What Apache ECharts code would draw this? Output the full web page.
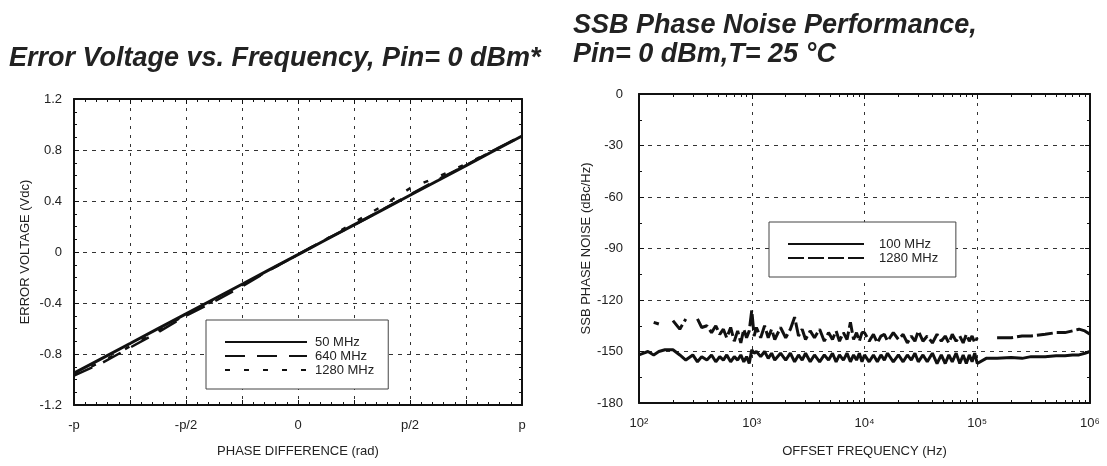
<!DOCTYPE html>
<html>
<head>
<meta charset="utf-8">
<script src="https://cdn.jsdelivr.net/npm/echarts@6/dist/echarts.min.js"></script>
<style>html,body{margin:0;padding:0;background:#fff}#c{width:1107px;height:466px}</style>
</head>
<body>
<div id="c"></div>
<script>
// ---------- Left chart: Error voltage vs phase difference ----------
// phase in units of pi
var phase = [-1, -0.875, -0.75, -0.625, -0.5, -0.375, -0.25, -0.125, 0, 0.125, 0.25, 0.375, 0.5, 0.625, 0.75, 0.875, 1];
var v50 = [-0.95, -0.834, -0.718, -0.601, -0.485, -0.369, -0.253, -0.136, -0.02, 0.096, 0.213, 0.329, 0.445, 0.561, 0.678, 0.794, 0.91];
var v640 = [-0.97, -0.87, -0.75, -0.63, -0.50, -0.39, -0.27, -0.14, -0.02, 0.10, 0.21, 0.33, 0.45, 0.57, 0.68, 0.80, 0.91];
var v1280 = [-0.96, -0.86, -0.74, -0.62, -0.49, -0.38, -0.26, -0.14, -0.02, 0.10, 0.23, 0.36, 0.50, 0.59, 0.69, 0.80, 0.91];
var phaseTickValues = [-1, -0.5, 0, 0.5, 1];
var phaseTickLabels = ['-p', '-p/2', '0', 'p/2', 'p'];
var leftNames = ['50 MHz', '640 MHz', '1280 MHz'];

// ---------- Right chart: SSB phase noise ----------
var freq = [100,110,120,135,150,170,200,230,260,300,330,360,400,440,480,520,560,600,650,700,750,800,850,900,950,
  1000,1050,1100,1200,1300,1400,1500,1600,1800,2000,2200,2400,2600,2800,3000,3300,3600,4000,4400,4800,5200,5600,6000,6500,7000,7500,8000,8500,9000,9500,
  10000,11000,12000,13000,14000,15000,16000,18000,20000,22000,24000,26000,28000,30000,33000,36000,40000,44000,48000,52000,56000,60000,65000,70000,75000,80000,85000,90000,95000,
  100000,120000,150000,200000,250000,300000,400000,500000,600000,700000,800000,900000,1000000];
var pn100 = [-152,-151,-150,-152,-150,-149,-149,-152,-155,-152,-156,-153,-155,-152,-156,-153,-155,-152,-156,-153,-155,-152,-156,-153,-157,
  -149,-151,-150,-153,-150,-154,-151,-155,-151,-155,-151,-156,-152,-155,-151,-156,-152,-156,-152,-155,-151,-156,-152,-155,-151,-156,-152,-155,-151,-156,
  -152,-156,-152,-156,-152,-155,-151,-156,-152,-156,-152,-155,-151,-156,-152,-156,-151,-157,-152,-157,-152,-156,-151,-157,-152,-157,-152,-156,-151,
  -157,-154,-154,-153.5,-154,-153,-153,-152.5,-152.5,-152,-152,-151,-150];
var pn1280 = [null,null,null,-133,-134,null,-132,-137,-131,null,-131,-136,-135,-139,-135,-140,-137,-142,-136,-144,-138,-145,-137,-142,-138,
  -126,-141,-136,-142,-135,-142,-137,-143,-136,-142,-137,-130,-141,-137,-143,-138,-142,-137,-144,-139,-143,-138,-144,-139,-143,-133,-143,-139,-144,-139,
  -139,-144,-140,-145,-141,-140,-144,-139,-143,-140,-145,-141,-144,-138,-144,-141,-145,-140,-144,-141,-145,-140,-144,-141,-145,-140,-144,-141,-145,
  -142,null,-142,-142,-141,-141,-140,-139,-139,-138,-137,-138,-140];
var rightNames = ['100 MHz', '1280 MHz '];

var FONT = '"Liberation Sans", Arial, sans-serif';
var TXT = '#222';
var INK = '#111';

function zip(xs, ys) { return xs.map(function (x, i) { return [x, ys[i]]; }); }

var chart = echarts.init(document.getElementById('c'), null, {renderer: 'canvas'});

var axisLine = {show: true, onZero: false, lineStyle: {color: INK, width: 2}};
var labelStyle = {color: TXT, fontSize: 13, fontFamily: FONT};
var nameStyle = {color: TXT, fontSize: 13, fontFamily: FONT};
var tick = {show: true, inside: true, length: 5, lineStyle: {color: INK}};
function minor(n) { return {show: true, splitNumber: n, length: 3, lineStyle: {color: INK}}; }

var legendCommon = {orient: 'vertical', itemHeight: 10, itemGap: 0, borderColor: '#444', borderWidth: 1,
  backgroundColor: '#fff', selectedMode: false, itemStyle: {opacity: 0, borderWidth: 0}};

var option = {
  backgroundColor: '#fff',
  animation: false,
  title: [
    {text: 'Error Voltage vs. Frequency, Pin= 0 dBm*', left: 9, top: 45, padding: 0,
      textStyle: {fontSize: 27, fontWeight: 'bold', fontStyle: 'italic', fontFamily: FONT, color: TXT}},
    {text: 'SSB Phase Noise Performance,\nPin= 0 dBm,T= 25 \u00B0C', left: 573, top: 11, padding: 0,
      textStyle: {fontSize: 27, fontWeight: 'bold', fontStyle: 'italic', fontFamily: FONT, color: TXT, lineHeight: 29}}
  ],
  legend: [
    Object.assign({data: leftNames, left: 206, top: 320, itemWidth: 82, padding: [15, 14, 12, 18],
      textStyle: {fontSize: 13, fontFamily: FONT, color: TXT, lineHeight: 14, padding: [0, 0, 0, 3]}}, legendCommon),
    Object.assign({data: rightNames, left: 769, top: 222, itemWidth: 76, padding: [15, 14, 12, 18],
      textStyle: {fontSize: 13, fontFamily: FONT, color: TXT, lineHeight: 14, padding: [0, 0, 0, 10]}}, legendCommon)
  ],
  grid: [
    {left: 74, top: 99, width: 448, height: 306},
    {left: 639, top: 94, width: 451, height: 309}
  ],
  xAxis: [
    {gridIndex: 0, type: 'value', min: -1, max: 1, interval: 0.25, position: 'bottom',
      name: 'PHASE DIFFERENCE (rad)', nameLocation: 'middle', nameGap: 40, nameTextStyle: nameStyle,
      axisLine: axisLine, axisTick: tick, minorTick: minor(5),
      axisLabel: Object.assign({margin: 14, formatter: function (v) {
        for (var i = 0; i < phaseTickValues.length; i++) if (Math.abs(phaseTickValues[i] - v) < 1e-6) return phaseTickLabels[i];
        return '';
      }}, labelStyle),
      splitLine: {show: true, lineStyle: {color: '#333', width: 1, type: [3, 6]}}},
    {gridIndex: 0, type: 'value', min: -1, max: 1, interval: 0.25, position: 'top',
      axisLine: axisLine, axisTick: tick, minorTick: minor(5),
      axisLabel: {show: false}, splitLine: {show: false}},
    {gridIndex: 1, type: 'log', logBase: 10, min: 100, max: 1000000, position: 'bottom',
      name: 'OFFSET FREQUENCY (Hz)', nameLocation: 'middle', nameGap: 42, nameTextStyle: nameStyle,
      axisLine: axisLine, axisTick: tick, minorTick: minor(9),
      axisLabel: Object.assign({margin: 14, formatter: function (v) {
        var sup = ['\u2070','\u00B9','\u00B2','\u00B3','\u2074','\u2075','\u2076'];
        var e = Math.round(Math.log10(v));
        return '10' + sup[e];
      }}, labelStyle),
      splitLine: {show: true, lineStyle: {color: '#333', width: 1, type: [3, 6]}}},
    {gridIndex: 1, type: 'log', logBase: 10, min: 100, max: 1000000, position: 'top',
      axisLine: axisLine, axisTick: tick, minorTick: minor(9),
      axisLabel: {show: false}, splitLine: {show: false}}
  ],
  yAxis: [
    {gridIndex: 0, type: 'value', min: -1.2, max: 1.2, interval: 0.4, position: 'left',
      name: 'ERROR VOLTAGE (Vdc)', nameLocation: 'middle', nameGap: 42, nameTextStyle: nameStyle,
      axisLine: axisLine, axisTick: tick, minorTick: minor(4),
      axisLabel: Object.assign({margin: 12, formatter: function (v) {
        var r = Math.round(v * 10) / 10; return r === 0 ? '0' : String(r);
      }}, labelStyle),
      splitLine: {show: true, lineStyle: {color: '#333', width: 1, type: [4, 5]}}},
    {gridIndex: 0, type: 'value', min: -1.2, max: 1.2, interval: 0.4, position: 'right',
      axisLine: axisLine, axisTick: tick, minorTick: minor(4),
      axisLabel: {show: false}, splitLine: {show: false}},
    {gridIndex: 1, type: 'value', min: -180, max: 0, interval: 30, position: 'left',
      name: 'SSB PHASE NOISE (dBc/Hz)', nameLocation: 'middle', nameGap: 44, nameTextStyle: nameStyle,
      axisLine: axisLine, axisTick: tick, minorTick: minor(2),
      axisLabel: Object.assign({margin: 16}, labelStyle),
      splitLine: {show: true, lineStyle: {color: '#333', width: 1, type: [4, 5]}}},
    {gridIndex: 1, type: 'value', min: -180, max: 0, interval: 30, position: 'right',
      axisLine: axisLine, axisTick: tick, minorTick: minor(2),
      axisLabel: {show: false}, splitLine: {show: false}}
  ],
  series: [
    {name: leftNames[1], type: 'line', xAxisIndex: 0, yAxisIndex: 0, data: zip(phase, v640), symbol: 'none',
      itemStyle: {color: INK}, lineStyle: {color: INK, width: 2.5, type: [20, 12]}},
    {name: leftNames[2], type: 'line', xAxisIndex: 0, yAxisIndex: 0, data: zip(phase, v1280), symbol: 'none',
      itemStyle: {color: INK}, lineStyle: {color: INK, width: 2.5, type: [5, 14]}},
    {name: leftNames[0], type: 'line', xAxisIndex: 0, yAxisIndex: 0, data: zip(phase, v50), symbol: 'none',
      itemStyle: {color: INK}, lineStyle: {color: INK, width: 3}},
    {name: rightNames[0], type: 'line', xAxisIndex: 2, yAxisIndex: 2, data: zip(freq, pn100), symbol: 'none',
      itemStyle: {color: INK}, lineStyle: {color: INK, width: 3}},
    {name: rightNames[1], type: 'line', xAxisIndex: 2, yAxisIndex: 2, data: zip(freq, pn1280), symbol: 'none',
      connectNulls: false, itemStyle: {color: INK}, lineStyle: {color: INK, width: 3, type: [16, 4]}}
  ]
};
chart.setOption(option);
</script>
</body>
</html>
